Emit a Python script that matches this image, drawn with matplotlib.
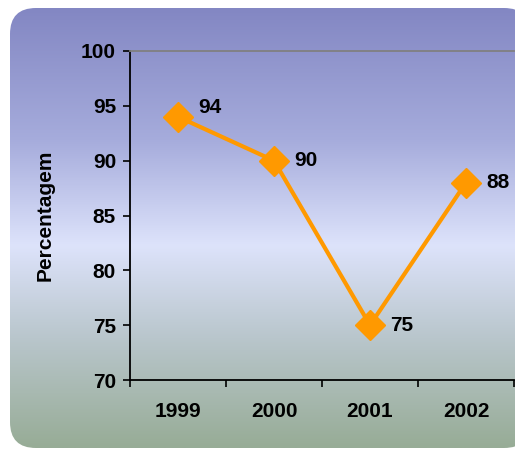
import matplotlib
matplotlib.use("Agg")
import matplotlib.pyplot as plt
import numpy as np
from matplotlib.patches import FancyBboxPatch
from matplotlib.colors import LinearSegmentedColormap

years = ["1999", "2000", "2001", "2002"]
values = [94, 90, 75, 88]
y_ticks = [70, 75, 80, 85, 90, 95, 100]
y_label = "Percentagem"

# label offsets (points) for the data labels
label_dy = [7, 0, 0, 0]

plt.rcParams['font.family'] = ['Liberation Sans', 'DejaVu Sans']

W, H = 515, 449
fig = plt.figure(figsize=(W / 100, H / 100), dpi=100)
fig.patch.set_facecolor('white')

# background panel with gradient
bg = fig.add_axes([0, 0, 1, 1])
bg.set_xlim(0, W)
bg.set_ylim(H, 0)
bg.axis('off')
cmap = LinearSegmentedColormap.from_list(
    'grad', [(0.0, '#8387c3'), (0.30, '#a6acdc'), (0.54, '#dde3fb'),
             (0.75, '#b9c6cc'), (1.0, '#97ac96')])
grad = np.linspace(0, 1, 256).reshape(-1, 1)
panel = FancyBboxPatch((10, 8), 520, 440, boxstyle="round,pad=0,rounding_size=26",
                       facecolor='none', edgecolor='none')
bg.add_patch(panel)
im = bg.imshow(grad, cmap=cmap, aspect='auto', extent=(10, 530, 448, 8), zorder=0)
im.set_clip_path(panel)

# main axes
left, right, top, bottom = 130, 514, 51, 380
ax = fig.add_axes([left / W, 1 - bottom / H, (right - left) / W, (bottom - top) / H])
ax.set_facecolor('none')
x = np.arange(len(years))
ax.plot(x, values, color='#ff9900', linewidth=3, marker='D', markersize=15,
        markeredgecolor='#ff9900', markerfacecolor='#ff9900', zorder=3, clip_on=False)
for xi, v, dy in zip(x, values, label_dy):
    ax.annotate(str(v), (xi, v), xytext=(14.5, dy), textcoords='offset points',
                fontsize=15, fontweight='bold', va='center',
                ha='left', color='black', annotation_clip=False)

ax.set_xlim(-0.5, 3.5)
ax.set_ylim(70, 100)
ax.set_yticks(y_ticks)
ax.set_yticklabels([str(t) for t in y_ticks], fontsize=15, fontweight='bold')
ax.set_xticks(np.arange(-0.5, 4, 1), minor=False)
ax.set_xticklabels([])
ax.set_xticks(x, minor=True)
ax.set_xticklabels(years, minor=True, fontsize=15, fontweight='bold')
ax.tick_params(axis='x', which='minor', length=0, pad=16)
ax.tick_params(axis='x', which='major', length=5, direction='out', width=1.2)
ax.tick_params(axis='y', length=5, direction='out', width=1.2, pad=5)
ax.set_ylabel(y_label, fontsize=15, fontweight='bold', labelpad=19)

for s in ['left', 'bottom']:
    ax.spines[s].set_color('black')
    ax.spines[s].set_linewidth(1.3)
ax.spines['top'].set_color('#808080')
ax.spines['top'].set_linewidth(1.3)
ax.spines['right'].set_visible(False)

fig.savefig('out.png', dpi=100)
